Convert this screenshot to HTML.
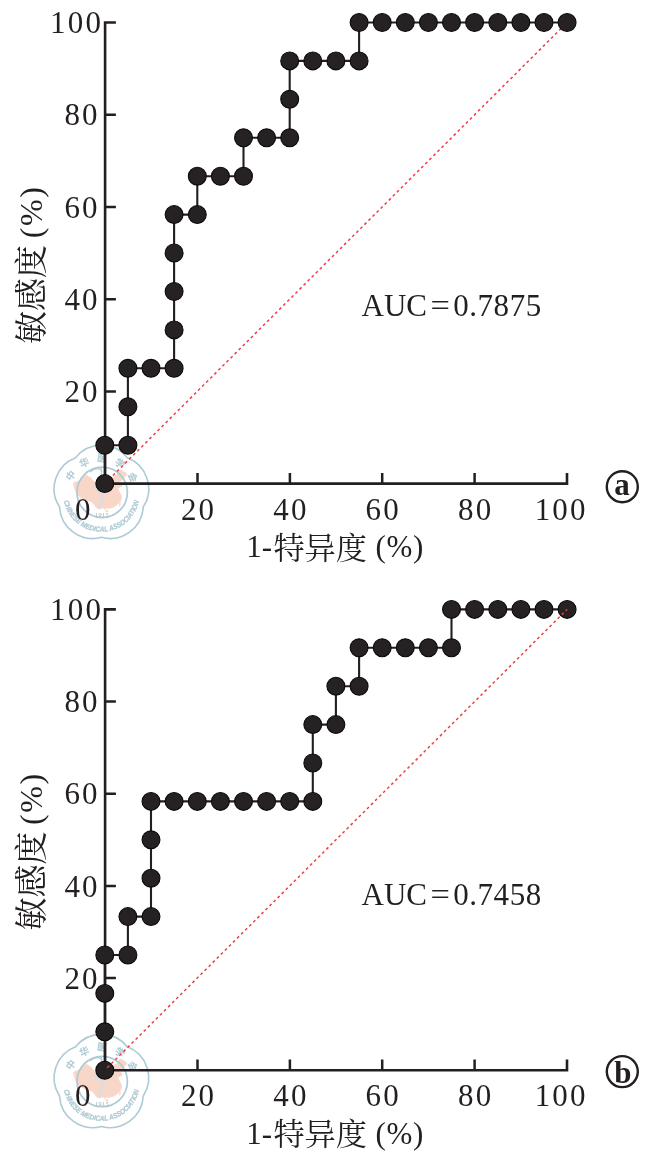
<!DOCTYPE html>
<html lang="zh">
<head>
<meta charset="utf-8">
<title>ROC</title>
<style>
html,body{margin:0;padding:0;background:#fff;}
body{width:659px;height:1161px;overflow:hidden;}
svg{display:block;}
text{fill:#231f20;}
.n{font-family:"Liberation Serif","Noto Serif CJK SC",serif;font-size:31px;}
.k{letter-spacing:2.2px;}
.t{font-family:"Liberation Serif","Noto Serif CJK SC",serif;font-size:31px;}
.c{font-family:"Liberation Serif","Noto Serif CJK SC",serif;font-size:31.2px;font-weight:400;}
.c2{font-family:"Liberation Serif","Noto Serif CJK SC",serif;font-size:33px;font-weight:400;}
.p{letter-spacing:0.7px;}
.p2{font-size:32px;letter-spacing:1.6px;}
.b{font-family:"Liberation Serif",serif;font-size:31px;font-weight:bold;}
</style>
</head>
<body>
<svg width="659" height="1161" viewBox="0 0 659 1161">
<defs>
<symbol id="wm" viewBox="-50 -50 100 100" overflow="visible">
<path id="wmt" d="M-31.29 -4.40A31.6 31.6 0 0 1 31.29 -4.40" fill="none"/><path id="wmb" d="M-38.31 2.68A38.4 38.4 0 0 0 38.31 2.68" fill="none"/>
<path d="M-27.8 -9.7L-26.4 -11.0L-22.8 -11.9L-20.5 -14.2L-17.8 -16.9L-14.6 -17.9L-12.8 -16.5L-10.9 -15.6L-8.7 -12.8L-5.9 -10.6L-1.4 -8.6L5.0 -8.6L9.6 -12.8L12.3 -16.8L15.9 -18.6L17.3 -21.9L19.6 -23.3L22.3 -21.5L24.6 -20.1L25.5 -18.8L23.2 -16.5L21.4 -14.2L19.1 -12.4L17.0 -10.6L19.6 -9.7L20.7 -7.7L18.2 -6.0L16.1 -4.9L17.8 -1.5L19.6 2.2L20.0 4.9L18.7 8.6L15.9 11.3L13.2 13.1L10.5 14.2L7.7 14.9L5.0 14.5L3.6 16.1L2.1 14.9L-0.5 14.0L-3.0 15.4L-5.0 14.0L-6.4 12.2L-7.7 10.4L-9.6 8.6L-12.3 7.7L-15.0 6.7L-17.8 5.8L-20.5 4.0L-23.2 2.2L-25.0 -0.5L-26.0 -3.3L-26.9 -6.0Z" fill="#f9d7c8" stroke="#f9d7c8" stroke-width="1" stroke-linejoin="round"/><ellipse cx="5.5" cy="17.9" rx="1.5" ry="1.1" fill="#f9d7c8"/><ellipse cx="18.5" cy="11.3" rx="0.8" ry="1.9" fill="#f9d7c8" transform="rotate(15 18.5 11.3)"/><circle cx="11.4" cy="21.3" r="0.5" fill="#f9d7c8"/><circle cx="14.1" cy="18.6" r="0.45" fill="#f9d7c8"/>
<path d="M-25.86 -35.60A33.2 33.2 0 0 1 25.86 -35.60A33.2 33.2 0 0 1 41.85 13.60A33.2 33.2 0 0 1 0.00 44.00A33.2 33.2 0 0 1 -41.85 13.60A33.2 33.2 0 0 1 -25.86 -35.60Z" fill="none" stroke="#aecad4" stroke-width="1.6" stroke-linejoin="round"/>
<circle cx="0.8" cy="-0.9" r="25.2" fill="none" stroke="#aecad4" stroke-width="1.7"/>
<path d="M0.0 -26.0L-0.6 -5.1" stroke="#aecad4" stroke-width="0.9" fill="none"/><path d="M-10.9 -21.5C-6.8 -26.0 0.0 -25.6 0.5 -21.5" stroke="#aecad4" stroke-width="1.2" fill="none" stroke-linecap="round"/><path d="M-6.6 -6.5C-5.0 -2.4 1.8 -1.0 2.1 2.6C2.3 6.3 -2.5 7.7 -2.1 10.8C-1.9 12.7 -0.9 13.1 -1.4 14.9" stroke="#c3d9e1" stroke-width="2" fill="none" stroke-linecap="round"/><path d="M-6.6 -6.5C-5.0 -2.4 1.8 -1.0 2.1 2.6C2.3 6.3 -2.5 7.7 -2.1 10.8C-1.9 12.7 -0.9 13.1 -1.4 14.9" stroke="#eef5f7" stroke-width="0.6" fill="none" stroke-linecap="round"/>
<text font-family="'Liberation Sans','Noto Sans CJK SC',sans-serif" font-size="9.6" font-weight="500" style="fill:#aecad4;stroke:#aecad4;stroke-width:0.25" letter-spacing="7.2"><textPath href="#wmt" startOffset="48.9" text-anchor="middle">中华医学会</textPath></text>
<text font-family="'Liberation Sans',sans-serif" font-size="7.3" font-weight="bold" font-style="italic" style="fill:#aecad4;stroke:#aecad4;stroke-width:0.25" letter-spacing="0" textLength="105" lengthAdjust="spacingAndGlyphs"><textPath href="#wmb" startOffset="50%" text-anchor="middle">CHINESE MEDICAL ASSOCIATION</textPath></text>
<text font-family="'Liberation Serif',serif" font-size="6.4" x="0.6" y="23.4" text-anchor="middle" style="fill:#9fb3bb" letter-spacing="0.3">1915</text>
</symbol>
</defs>
<rect width="659" height="1161" fill="#fff"/>
<g>
<use href="#wm" x="51.4" y="443.3" width="100" height="100"/>
<path d="M115.9 22.5H105.1V483.6H567.0V473.0" fill="none" stroke="#231f20" stroke-width="2.6" stroke-linejoin="miter"/>
<path d="M105.1 391.4h10.8M105.1 299.2h10.8M105.1 206.9h10.8M105.1 114.7h10.8M197.5 483.6v-10.6M289.9 483.6v-10.6M382.2 483.6v-10.6M474.6 483.6v-10.6" fill="none" stroke="#231f20" stroke-width="2.5"/>
<line x1="104.8" y1="483.6" x2="567.1" y2="22.5" stroke="#ec3f47" stroke-width="1.5" stroke-dasharray="2.8 2.93"/>
<path d="M104.8 483.6L104.8 445.2L127.9 445.2L127.9 406.8L127.9 368.3L151.0 368.3L174.1 368.3L174.1 329.9L174.1 291.5L174.1 253.0L174.1 214.6L197.3 214.6L197.3 176.2L220.4 176.2L243.5 176.2L243.5 137.8L266.6 137.8L289.7 137.8L289.7 99.3L289.7 60.9L312.8 60.9L335.9 60.9L359.1 60.9L359.1 22.5L382.2 22.5L405.3 22.5L428.4 22.5L451.5 22.5L474.6 22.5L497.8 22.5L520.9 22.5L544.0 22.5L567.1 22.5" fill="none" stroke="#231f20" stroke-width="2.1" stroke-linejoin="miter"/>
<circle cx="104.8" cy="483.6" r="8.95" fill="#262223" stroke="#0c0a0b" stroke-width="1.1"/>
<circle cx="104.8" cy="445.2" r="8.95" fill="#262223" stroke="#0c0a0b" stroke-width="1.1"/>
<circle cx="127.9" cy="445.2" r="8.95" fill="#262223" stroke="#0c0a0b" stroke-width="1.1"/>
<circle cx="127.9" cy="406.8" r="8.95" fill="#262223" stroke="#0c0a0b" stroke-width="1.1"/>
<circle cx="127.9" cy="368.3" r="8.95" fill="#262223" stroke="#0c0a0b" stroke-width="1.1"/>
<circle cx="151.0" cy="368.3" r="8.95" fill="#262223" stroke="#0c0a0b" stroke-width="1.1"/>
<circle cx="174.1" cy="368.3" r="8.95" fill="#262223" stroke="#0c0a0b" stroke-width="1.1"/>
<circle cx="174.1" cy="329.9" r="8.95" fill="#262223" stroke="#0c0a0b" stroke-width="1.1"/>
<circle cx="174.1" cy="291.5" r="8.95" fill="#262223" stroke="#0c0a0b" stroke-width="1.1"/>
<circle cx="174.1" cy="253.0" r="8.95" fill="#262223" stroke="#0c0a0b" stroke-width="1.1"/>
<circle cx="174.1" cy="214.6" r="8.95" fill="#262223" stroke="#0c0a0b" stroke-width="1.1"/>
<circle cx="197.3" cy="214.6" r="8.95" fill="#262223" stroke="#0c0a0b" stroke-width="1.1"/>
<circle cx="197.3" cy="176.2" r="8.95" fill="#262223" stroke="#0c0a0b" stroke-width="1.1"/>
<circle cx="220.4" cy="176.2" r="8.95" fill="#262223" stroke="#0c0a0b" stroke-width="1.1"/>
<circle cx="243.5" cy="176.2" r="8.95" fill="#262223" stroke="#0c0a0b" stroke-width="1.1"/>
<circle cx="243.5" cy="137.8" r="8.95" fill="#262223" stroke="#0c0a0b" stroke-width="1.1"/>
<circle cx="266.6" cy="137.8" r="8.95" fill="#262223" stroke="#0c0a0b" stroke-width="1.1"/>
<circle cx="289.7" cy="137.8" r="8.95" fill="#262223" stroke="#0c0a0b" stroke-width="1.1"/>
<circle cx="289.7" cy="99.3" r="8.95" fill="#262223" stroke="#0c0a0b" stroke-width="1.1"/>
<circle cx="289.7" cy="60.9" r="8.95" fill="#262223" stroke="#0c0a0b" stroke-width="1.1"/>
<circle cx="312.8" cy="60.9" r="8.95" fill="#262223" stroke="#0c0a0b" stroke-width="1.1"/>
<circle cx="335.9" cy="60.9" r="8.95" fill="#262223" stroke="#0c0a0b" stroke-width="1.1"/>
<circle cx="359.1" cy="60.9" r="8.95" fill="#262223" stroke="#0c0a0b" stroke-width="1.1"/>
<circle cx="359.1" cy="22.5" r="8.95" fill="#262223" stroke="#0c0a0b" stroke-width="1.1"/>
<circle cx="382.2" cy="22.5" r="8.95" fill="#262223" stroke="#0c0a0b" stroke-width="1.1"/>
<circle cx="405.3" cy="22.5" r="8.95" fill="#262223" stroke="#0c0a0b" stroke-width="1.1"/>
<circle cx="428.4" cy="22.5" r="8.95" fill="#262223" stroke="#0c0a0b" stroke-width="1.1"/>
<circle cx="451.5" cy="22.5" r="8.95" fill="#262223" stroke="#0c0a0b" stroke-width="1.1"/>
<circle cx="474.6" cy="22.5" r="8.95" fill="#262223" stroke="#0c0a0b" stroke-width="1.1"/>
<circle cx="497.8" cy="22.5" r="8.95" fill="#262223" stroke="#0c0a0b" stroke-width="1.1"/>
<circle cx="520.9" cy="22.5" r="8.95" fill="#262223" stroke="#0c0a0b" stroke-width="1.1"/>
<circle cx="544.0" cy="22.5" r="8.95" fill="#262223" stroke="#0c0a0b" stroke-width="1.1"/>
<circle cx="567.1" cy="22.5" r="8.95" fill="#262223" stroke="#0c0a0b" stroke-width="1.1"/>
<text class="n k" x="99.8" y="402.0" text-anchor="end">20</text>
<text class="n k" x="99.8" y="309.8" text-anchor="end">40</text>
<text class="n k" x="99.8" y="217.5" text-anchor="end">60</text>
<text class="n k" x="99.8" y="125.3" text-anchor="end">80</text>
<text class="n k" x="103.1" y="33.1" text-anchor="end">100</text>
<text class="n k" x="83.9" y="519.6" text-anchor="middle">0</text>
<text class="n k" x="198.6" y="519.6" text-anchor="middle">20</text>
<text class="n k" x="291.0" y="519.6" text-anchor="middle">40</text>
<text class="n k" x="383.3" y="519.6" text-anchor="middle">60</text>
<text class="n k" x="475.7" y="519.6" text-anchor="middle">80</text>
<text class="n k" x="561.2" y="519.6" text-anchor="middle">100</text>
<text class="t" x="246.2" y="557.1">1-</text><text class="t c" x="273.4" y="558.7">特异度</text><text class="t p" x="375.4" y="557.1">(%)</text>
<g transform="translate(42.6 343.9) rotate(-90)"><text class="t c2" x="0" y="0">敏感度</text><text class="t p2" x="105.6" y="-1">(%)</text></g>
<text class="n" x="361.5" y="316.0">AUC</text><text class="n" x="430.4" y="316.0" textLength="19.4" lengthAdjust="spacingAndGlyphs">=</text><text class="n" x="453.2" y="316.0" letter-spacing="0.55">0.7875</text>
<circle cx="622.3" cy="486.7" r="15.5" fill="none" stroke="#231f20" stroke-width="2.4"/>
<text class="b" x="622.1" y="495.4" text-anchor="middle">a</text>
</g>
<g>
<use href="#wm" x="51.4" y="1032.4" width="100" height="100"/>
<path d="M115.9 609.4H105.1V1070.2H567.0V1059.6" fill="none" stroke="#231f20" stroke-width="2.6" stroke-linejoin="miter"/>
<path d="M105.1 978.0h10.8M105.1 885.9h10.8M105.1 793.7h10.8M105.1 701.6h10.8M197.5 1070.2v-10.6M289.9 1070.2v-10.6M382.2 1070.2v-10.6M474.6 1070.2v-10.6" fill="none" stroke="#231f20" stroke-width="2.5"/>
<path d="M104.8 1070.2L104.8 1031.8L104.8 993.4L104.8 955.0L127.9 955.0L127.9 916.6L151.0 916.6L151.0 878.2L151.0 839.8L151.0 801.4L174.1 801.4L197.3 801.4L220.4 801.4L243.5 801.4L266.6 801.4L289.7 801.4L312.8 801.4L312.8 763.0L312.8 724.6L335.9 724.6L335.9 686.2L359.1 686.2L359.1 647.8L382.2 647.8L405.3 647.8L428.4 647.8L451.5 647.8L451.5 609.4L474.6 609.4L497.8 609.4L520.9 609.4L544.0 609.4L567.1 609.4" fill="none" stroke="#231f20" stroke-width="2.1" stroke-linejoin="miter"/>
<circle cx="104.8" cy="1070.2" r="8.95" fill="#262223" stroke="#0c0a0b" stroke-width="1.1"/>
<circle cx="104.8" cy="1031.8" r="8.95" fill="#262223" stroke="#0c0a0b" stroke-width="1.1"/>
<circle cx="104.8" cy="993.4" r="8.95" fill="#262223" stroke="#0c0a0b" stroke-width="1.1"/>
<circle cx="104.8" cy="955.0" r="8.95" fill="#262223" stroke="#0c0a0b" stroke-width="1.1"/>
<circle cx="127.9" cy="955.0" r="8.95" fill="#262223" stroke="#0c0a0b" stroke-width="1.1"/>
<circle cx="127.9" cy="916.6" r="8.95" fill="#262223" stroke="#0c0a0b" stroke-width="1.1"/>
<circle cx="151.0" cy="916.6" r="8.95" fill="#262223" stroke="#0c0a0b" stroke-width="1.1"/>
<circle cx="151.0" cy="878.2" r="8.95" fill="#262223" stroke="#0c0a0b" stroke-width="1.1"/>
<circle cx="151.0" cy="839.8" r="8.95" fill="#262223" stroke="#0c0a0b" stroke-width="1.1"/>
<circle cx="151.0" cy="801.4" r="8.95" fill="#262223" stroke="#0c0a0b" stroke-width="1.1"/>
<circle cx="174.1" cy="801.4" r="8.95" fill="#262223" stroke="#0c0a0b" stroke-width="1.1"/>
<circle cx="197.3" cy="801.4" r="8.95" fill="#262223" stroke="#0c0a0b" stroke-width="1.1"/>
<circle cx="220.4" cy="801.4" r="8.95" fill="#262223" stroke="#0c0a0b" stroke-width="1.1"/>
<circle cx="243.5" cy="801.4" r="8.95" fill="#262223" stroke="#0c0a0b" stroke-width="1.1"/>
<circle cx="266.6" cy="801.4" r="8.95" fill="#262223" stroke="#0c0a0b" stroke-width="1.1"/>
<circle cx="289.7" cy="801.4" r="8.95" fill="#262223" stroke="#0c0a0b" stroke-width="1.1"/>
<circle cx="312.8" cy="801.4" r="8.95" fill="#262223" stroke="#0c0a0b" stroke-width="1.1"/>
<circle cx="312.8" cy="763.0" r="8.95" fill="#262223" stroke="#0c0a0b" stroke-width="1.1"/>
<circle cx="312.8" cy="724.6" r="8.95" fill="#262223" stroke="#0c0a0b" stroke-width="1.1"/>
<circle cx="335.9" cy="724.6" r="8.95" fill="#262223" stroke="#0c0a0b" stroke-width="1.1"/>
<circle cx="335.9" cy="686.2" r="8.95" fill="#262223" stroke="#0c0a0b" stroke-width="1.1"/>
<circle cx="359.1" cy="686.2" r="8.95" fill="#262223" stroke="#0c0a0b" stroke-width="1.1"/>
<circle cx="359.1" cy="647.8" r="8.95" fill="#262223" stroke="#0c0a0b" stroke-width="1.1"/>
<circle cx="382.2" cy="647.8" r="8.95" fill="#262223" stroke="#0c0a0b" stroke-width="1.1"/>
<circle cx="405.3" cy="647.8" r="8.95" fill="#262223" stroke="#0c0a0b" stroke-width="1.1"/>
<circle cx="428.4" cy="647.8" r="8.95" fill="#262223" stroke="#0c0a0b" stroke-width="1.1"/>
<circle cx="451.5" cy="647.8" r="8.95" fill="#262223" stroke="#0c0a0b" stroke-width="1.1"/>
<circle cx="451.5" cy="609.4" r="8.95" fill="#262223" stroke="#0c0a0b" stroke-width="1.1"/>
<circle cx="474.6" cy="609.4" r="8.95" fill="#262223" stroke="#0c0a0b" stroke-width="1.1"/>
<circle cx="497.8" cy="609.4" r="8.95" fill="#262223" stroke="#0c0a0b" stroke-width="1.1"/>
<circle cx="520.9" cy="609.4" r="8.95" fill="#262223" stroke="#0c0a0b" stroke-width="1.1"/>
<circle cx="544.0" cy="609.4" r="8.95" fill="#262223" stroke="#0c0a0b" stroke-width="1.1"/>
<circle cx="567.1" cy="609.4" r="8.95" fill="#262223" stroke="#0c0a0b" stroke-width="1.1"/>
<line x1="107.2" y1="1067.8" x2="567.1" y2="609.4" stroke="#ec3f47" stroke-width="1.5" stroke-dasharray="2.8 2.93"/>
<text class="n k" x="99.8" y="988.6" text-anchor="end">20</text>
<text class="n k" x="99.8" y="896.5" text-anchor="end">40</text>
<text class="n k" x="99.8" y="804.3" text-anchor="end">60</text>
<text class="n k" x="99.8" y="712.2" text-anchor="end">80</text>
<text class="n k" x="103.1" y="620.0" text-anchor="end">100</text>
<text class="n k" x="83.9" y="1106.2" text-anchor="middle">0</text>
<text class="n k" x="198.6" y="1106.2" text-anchor="middle">20</text>
<text class="n k" x="291.0" y="1106.2" text-anchor="middle">40</text>
<text class="n k" x="383.3" y="1106.2" text-anchor="middle">60</text>
<text class="n k" x="475.7" y="1106.2" text-anchor="middle">80</text>
<text class="n k" x="561.2" y="1106.2" text-anchor="middle">100</text>
<text class="t" x="246.2" y="1143.7">1-</text><text class="t c" x="273.4" y="1145.3">特异度</text><text class="t p" x="375.4" y="1143.7">(%)</text>
<g transform="translate(42.6 930.5) rotate(-90)"><text class="t c2" x="0" y="0">敏感度</text><text class="t p2" x="105.6" y="-1">(%)</text></g>
<text class="n" x="361.5" y="904.5">AUC</text><text class="n" x="430.4" y="904.5" textLength="19.4" lengthAdjust="spacingAndGlyphs">=</text><text class="n" x="453.2" y="904.5" letter-spacing="0.55">0.7458</text>
<circle cx="622.3" cy="1071.6" r="15.5" fill="none" stroke="#231f20" stroke-width="2.4"/>
<text class="b" x="622.8" y="1083.1" text-anchor="middle">b</text>
</g>
</svg>
</body>
</html>
